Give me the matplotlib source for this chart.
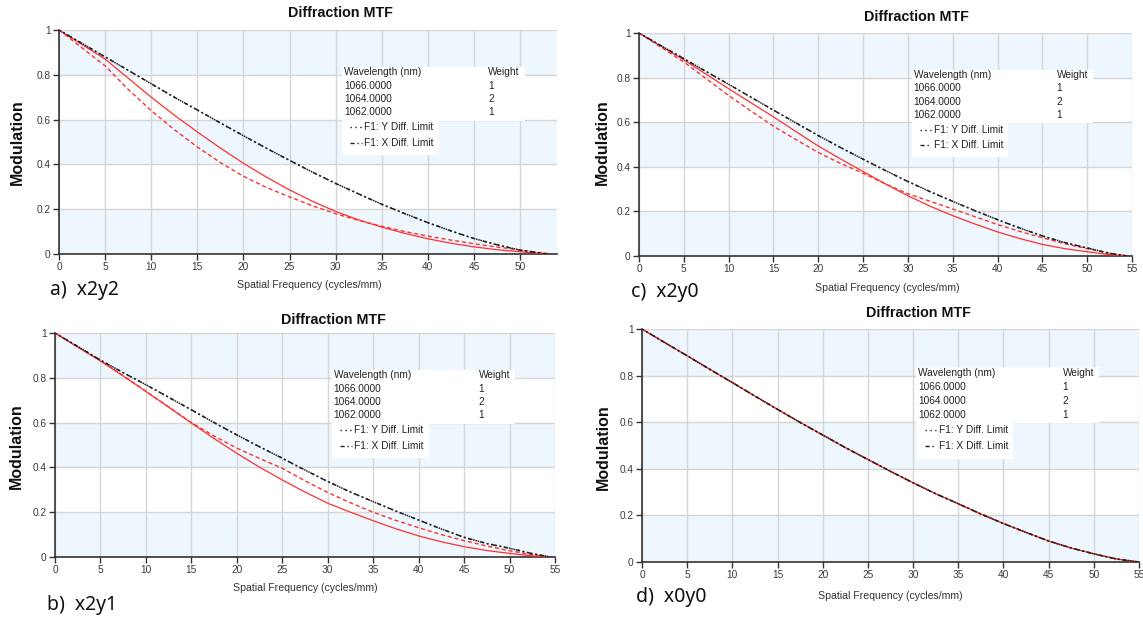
import matplotlib.pyplot as plt
from matplotlib.patches import Rectangle
from matplotlib.lines import Line2D

plt.rcParams['font.family'] = ['Liberation Sans', 'DejaVu Sans']

# spatial frequency samples (cycles/mm)
freq_a = [0, 2.5, 5, 7.5, 10, 12.5, 15, 17.5, 20, 22.5, 25, 27.5, 30, 32.5, 35,
          37.5, 40, 42.5, 45, 47.5, 50, 52.5, 53.3]
freq_bc = [0, 2.5, 5, 7.5, 10, 12.5, 15, 17.5, 20, 22.5, 25, 27.5, 30, 32.5, 35,
           37.5, 40, 42.5, 45, 47.5, 50, 52.5, 54.5]
freq_d = [0, 2.5, 5, 7.5, 10, 12.5, 15, 17.5, 20, 22.5, 25, 27.5, 30, 32.5, 35,
          37.5, 40, 42.5, 45, 47.5, 50, 52.5, 55]

# a) x2y2
a_diff = [1, .94, .88, .82, .76, .70, .643, .585, .528, .472, .418, .365, .315,
          .268, .222, .18, .14, .103, .069, .041, .017, .002, 0]
a_tan = [1, .935, .87, .785, .70, .62, .545, .473, .405, .343, .286, .235, .19,
         .152, .12, .092, .068, .048, .032, .019, .01, .002, 0]
a_sag = [1, .92, .84, .735, .64, .555, .478, .408, .347, .297, .255, .215, .18,
         .15, .124, .1, .08, .062, .046, .031, .018, .005, 0]

# b) x2y1
b_diff = [1, .94, .879, .823, .769, .713, .657, .6, .545, .492, .441, .388, .337,
          .29, .247, .205, .165, .125, .088, .06, .039, .015, 0]
b_tan = [1, .937, .875, .808, .739, .669, .598, .529, .463, .401, .344, .29, .24,
         .2, .162, .126, .094, .068, .046, .029, .016, .005, 0]
b_sag = [1, .938, .877, .81, .74, .67, .6, .54, .486, .44, .396, .34, .288,
         .242, .2, .163, .131, .1, .073, .049, .028, .01, 0]

# c) x2y0
c_diff = [1, .942, .885, .827, .77, .712, .654, .597, .54, .486, .434, .383, .334,
          .288, .245, .203, .163, .125, .09, .06, .036, .012, 0]
c_tan = [1, .94, .88, .815, .75, .687, .624, .558, .493, .435, .379, .323, .27,
         .223, .181, .143, .108, .078, .052, .033, .019, .006, 0]
c_sag = [1, .935, .87, .795, .72, .65, .582, .522, .464, .415, .371, .323, .279,
         .245, .211, .176, .141, .11, .082, .055, .033, .012, 0]

# d) x0y0 (all curves coincide)
d_diff = [1, .942, .885, .827, .77, .712, .655, .599, .545, .491, .44, .389, .34,
          .293, .25, .206, .165, .127, .09, .06, .035, .013, 0]
d_tan = list(d_diff)
d_sag = list(d_diff)

wavelengths = ['1066.0000', '1064.0000', '1062.0000']
weights = ['1', '2', '1']

W, H = 1143, 617
fig = plt.figure(figsize=(W / 100, H / 100), dpi=100)


def px(x, y):
    return x / W, 1 - y / H


panels = [
    # rect in px (left, top, right, bottom), xlim, data, title/xlabel/ylabel/tag positions, legend left
    dict(box=(59, 30, 557, 254), xmax=54, xt=range(0, 51, 5), f=freq_a,
         d=(a_diff, a_tan, a_sag), title=(340, 13), xl=(309, 285), yl=(17, 142),
         tag='a)  x2y2', tagpos=(50, 290), leg=0.568),
    dict(box=(639, 33, 1132, 256), xmax=55, xt=range(0, 56, 5), f=freq_bc,
         d=(c_diff, c_tan, c_sag), title=(916, 17), xl=(887, 288), yl=(602, 142),
         tag='c)  x2y0', tagpos=(631, 292), leg=0.553),
    dict(box=(55, 333, 555, 557), xmax=55, xt=range(0, 56, 5), f=freq_bc,
         d=(b_diff, b_tan, b_sag), title=(333, 320), xl=(305, 588), yl=(16, 446),
         tag='b)  x2y1', tagpos=(47, 605), leg=0.553),
    dict(box=(642, 329, 1139, 562), xmax=55, xt=range(0, 56, 5), f=freq_d,
         d=(d_diff, d_tan, d_sag), title=(918, 313), xl=(890, 596), yl=(603, 447),
         tag='d)  x0y0', tagpos=(636, 597), leg=0.552),
]

band = '#EEF6FE'
red = '#FF3030'

for p in panels:
    l, t, r, b = p['box']
    ax = fig.add_axes([l / W, 1 - b / H, (r - l) / W, (b - t) / H])
    ax.set_xlim(0, p['xmax'])
    ax.set_ylim(0, 1)
    for y0 in (0, 0.4, 0.8):
        ax.axhspan(y0, y0 + 0.2, color=band, lw=0, zorder=0)
    ax.set_xticks(list(p['xt']))
    ax.set_yticks([0, 0.2, 0.4, 0.6, 0.8, 1])
    ax.set_yticklabels(['0', '0.2', '0.4', '0.6', '0.8', '1'])
    ax.grid(color='#D6D6D6', lw=1.0, zorder=1)
    ax.set_axisbelow(True)
    for s in ('top', 'right'):
        ax.spines[s].set_visible(False)
    for s in ('left', 'bottom'):
        ax.spines[s].set_color('#333333')
        ax.spines[s].set_linewidth(1.2)
    ax.tick_params(direction='out', length=4, width=1, color='#333333',
                   labelsize=7.3, labelcolor='#3a3a3a', pad=2)

    f = p['f']
    diff, tan, sag = p['d']
    ax.plot(f, tan, color=red, lw=0.9, zorder=3)
    ax.plot(f, sag, color=red, lw=1.0, ls=(0, (3, 2)), zorder=3)
    ax.plot(f, diff, color='#222222', lw=1.1, ls=(0, (1, 2)), zorder=4)
    ax.plot(f, diff, color='#222222', lw=1.1, ls=(1.5, (3, 2, 1, 2)), zorder=4)

    # legend box
    lx = p['leg']
    ax.add_patch(Rectangle((lx, 0.595), 0.367, 0.241, transform=ax.transAxes,
                           facecolor='white', edgecolor='none', zorder=5))
    ax.add_patch(Rectangle((lx, 0.442), 0.195, 0.16, transform=ax.transAxes,
                           facecolor='white', edgecolor='none', zorder=5))
    tk = dict(transform=ax.transAxes, fontsize=7.3, color='#222222', va='center', zorder=6)
    ax.text(lx + 0.004, 0.812, 'Wavelength (nm)', **tk)
    ax.text(lx + 0.294, 0.812, 'Weight', **tk)
    for i, (wl, wt) in enumerate(zip(wavelengths, weights)):
        yy = 0.752 - i * 0.06
        ax.text(lx + 0.004, yy, wl, **tk)
        ax.text(lx + 0.294, yy, wt, **tk)
    ax.add_line(Line2D([lx + 0.017, lx + 0.040], [0.566, 0.566], transform=ax.transAxes,
                       color='#222222', lw=1.0, ls=(0, (1, 2.5)), zorder=6))
    ax.add_line(Line2D([lx + 0.017, lx + 0.040], [0.496, 0.496], transform=ax.transAxes,
                       color='#222222', lw=1.0, ls=(0, (3, 2, 1, 2)), zorder=6))
    ax.text(lx + 0.045, 0.566, 'F1: Y Diff. Limit', **tk)
    ax.text(lx + 0.045, 0.496, 'F1: X Diff. Limit', **tk)

    fig.text(*px(*p['title']), 'Diffraction MTF', fontsize=10.3, fontweight='bold',
             ha='center', va='center', color='#111111')
    fig.text(*px(*p['xl']), 'Spatial Frequency (cycles/mm)', fontsize=7.6,
             ha='center', va='center', color='#333333')
    fig.text(*px(*p['yl']), 'Modulation', fontsize=11.5, fontweight='bold',
             rotation=90, ha='center', va='center', color='#111111')
    fig.text(*px(*p['tagpos']), p['tag'], fontsize=14, ha='left', va='center',
             color='#111111', family=['Noto Sans', 'DejaVu Sans'])

fig.savefig('out.png', dpi=100)
